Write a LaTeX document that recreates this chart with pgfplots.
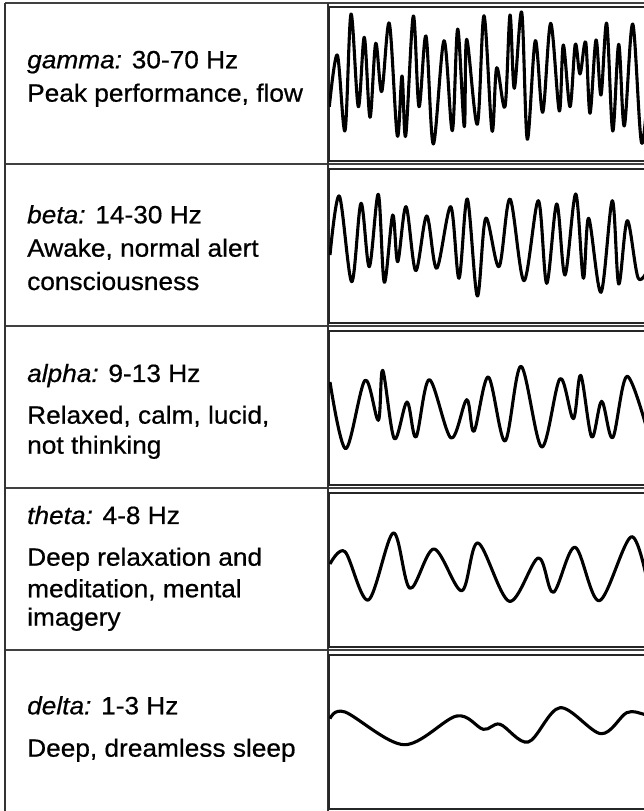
\documentclass[border=0pt]{standalone}
\usepackage{pgfplots}
\pgfplotsset{compat=1.18}
\usepackage{fontspec}
\setmainfont{Liberation Sans}[FakeStretch=1.05, FakeBold=0.6]

\pgfplotstableread{
x y
329.3 106.7
337.3 55
345 130.7
351 14
358.3 106.7
364.3 37.3
370 117.3
375.7 43.3
381.7 91.7
389.3 23.3
397.3 135.7
402 76
405.7 135.7
413.3 16
419 106.7
426 36
433.3 144
444 40.7
452.3 130.7
457.7 29
464.3 126.7
466.7 39.3
477.3 124.3
484 15.7
492 130.7
496.7 67.7
505 106.7
510 15
514.3 88.3
521.7 12.3
527.3 139.3
535.3 40.7
542.7 112.3
550.7 23.3
559.3 111
563.3 45
570 106.7
575.3 44.3
580 74
585.7 42.3
590 113.3
596 40
601 95
606.7 23.3
612.7 131
618.7 44.3
624.3 126
632.7 24
641.7 143.3
650 60
}\gamma

\pgfplotstableread{
x y
330 255
339.3 196
351.7 281.7
361 203.3
369.3 266.7
378.3 194.3
384.3 282.3
392.7 215
397.7 261.7
406 206.7
415.7 270.7
426.7 216
436.7 268.3
450.7 206.7
459 278.3
467.3 199
477.3 296
485.7 218.3
499 266.7
510 199
524 280.7
538.3 200.7
546.7 283.3
556.7 204
565 275
575.7 194
583.3 278.3
588.7 218.3
601 292.3
612.3 200.7
618.7 284
627.3 220.7
638.3 278.3
650 265
}\betaw

\pgfplotstableread{
x y
330 382
345.7 448.7
365 380.3
378.3 420.3
382.7 370.3
394.3 438.7
407 402
416 437
429.3 379.7
451 438
466.7 399.7
474 431.3
488.3 377
505 441
521 366.3
541.7 447
560 378.7
573.3 418.7
580.7 375.3
591.7 437
601.7 401.3
612.7 437.7
627.3 376.3
650 440
}\alphaw

\pgfplotstableread{
x y
330 564
345 551.7
368.3 600
393.3 533
410 588.3
434 549
461.7 590.7
478 543
509.3 601.3
538.3 558
553.3 592.3
575 547.3
599.3 600.7
631.7 536.7
650 595
}\thetaw

\pgfplotstableread{
x y
330 718.7
345 712
404 744.7
456.7 716
483.3 729.3
500 724.3
528.3 742
560 707.7
601 733.7
626.7 712.7
644 714.3
655 718
}\deltaw

\pgfplotsset{wave/.style={scale only axis, width=331pt, height=154pt,
  xmin=329, xmax=660, y dir=reverse, xtick=\empty, ytick=\empty,
  axis line style={line width=1.4pt, black!85}, anchor=north west},
  wl/.style={black, line width=3.1pt, smooth, tension=0.55, no marks, line join=round}}

\begin{document}
\begin{tikzpicture}[x=1pt,y=1pt]
\useasboundingbox (0,0) rectangle (644,811);
\clip (0,0) rectangle (644,811);
\fill[white] (0,0) rectangle (644,811);
% table lines
\foreach \yy in {808,647,485,323,161}{
  \draw[line width=1.4pt, black!75] (5,\yy) -- (644,\yy);
}
\draw[line width=1.4pt, black!80] (5,808) -- (5,0);
\draw[line width=1.4pt, black!80] (328,808) -- (328,0);

\begin{axis}[wave, at={(329pt,804pt)}, ymin=7, ymax=161]
\addplot[wl] table[x=x,y=y] {\gamma};
\end{axis}
\begin{axis}[wave, at={(329pt,642pt)}, ymin=169, ymax=323]
\addplot[wl] table[x=x,y=y] {\betaw};
\end{axis}
\begin{axis}[wave, at={(329pt,480pt)}, ymin=331, ymax=485]
\addplot[wl] table[x=x,y=y] {\alphaw};
\end{axis}
\begin{axis}[wave, at={(329pt,318pt)}, ymin=493, ymax=647]
\addplot[wl] table[x=x,y=y] {\thetaw};
\end{axis}
\begin{axis}[wave, at={(329pt,156pt)}, ymin=655, ymax=809]
\addplot[wl] table[x=x,y=y] {\deltaw};
\end{axis}

\begin{scope}[every node/.style={anchor=base west, inner sep=0pt, font=\fontsize{25}{30}\selectfont, text=black}]
\node at (27,742.7) {\textit{gamma:} 30-70 Hz};
\node at (27,709.3) {Peak performance, flow};
\node at (27,587.7) {\textit{beta:} 14-30 Hz};
\node at (27,554.3) {Awake, normal alert};
\node at (27,521) {consciousness};
\node at (27,429) {\textit{alpha:} 9-13 Hz};
\node at (27,387.3) {Relaxed, calm, lucid,};
\node at (27,357.3) {not thinking};
\node at (27,287) {\textit{theta:} 4-8 Hz};
\node at (27,245.3) {Deep relaxation and};
\node at (27,213.7) {meditation, mental};
\node at (27,185.3) {imagery};
\node at (27,96.7) {\textit{delta:} 1-3 Hz};
\node at (27,54.3) {Deep, dreamless sleep};
\end{scope}
\end{tikzpicture}
\end{document}
